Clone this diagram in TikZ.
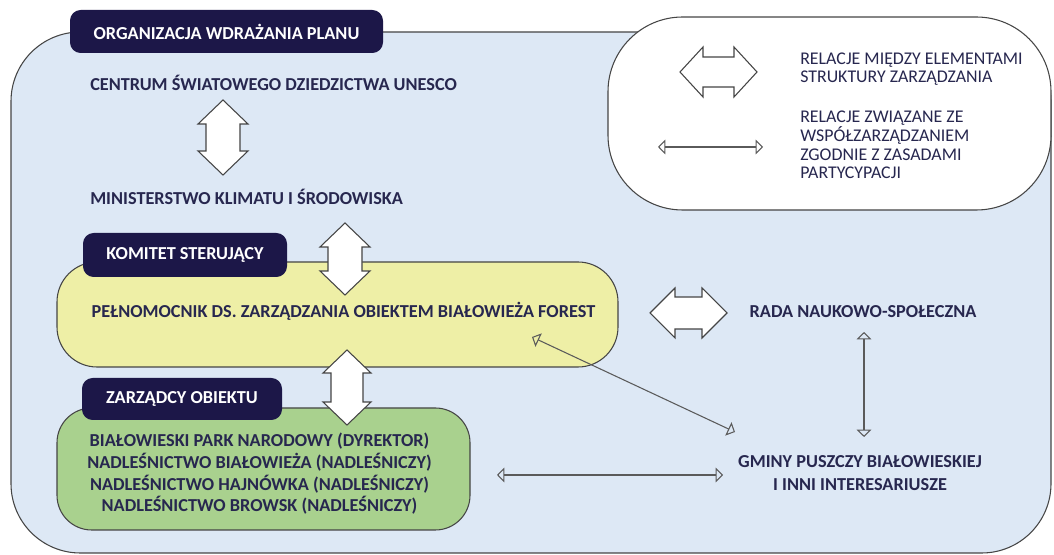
\documentclass[tikz,border=0pt]{standalone}
\usepackage{fontspec}
\setmainfont{Carlito}
\usetikzlibrary{arrows.meta}
\definecolor{bluebg}{HTML}{DDE8F5}
\definecolor{yellowbg}{HTML}{EEEFA6}
\definecolor{greenbg}{HTML}{A9D18E}
\definecolor{navy}{HTML}{1C1748}
\definecolor{txt}{HTML}{27274F}
\definecolor{edgegray}{HTML}{454545}
\definecolor{thingray}{HTML}{5A5A5A}
\tikzset{
  maintext/.style={text=txt, font=\bfseries\fontsize{13.7}{16}\selectfont, inner sep=0pt},
  labelbox/.style={fill=navy, text=white, rounded corners=8pt, inner sep=0pt,
    font=\bfseries\fontsize{13.7}{16}\selectfont},
  panel/.style={draw=edgegray, line width=0.8pt},
  blockarrow/.style={draw=edgegray, fill=white, line width=0.8pt, line join=miter},
  thinarrow/.style={draw=thingray, line width=0.8pt,
    {Triangle[open,length=5.5pt,width=11pt]}-{Triangle[open,length=5.5pt,width=11pt]}},
  legendtext/.style={text=txt, font=\fontsize{13.4}{14}\selectfont, align=left, inner sep=0pt},
}
% vertical block arrow: cx, ytop, ybot, head half width, shaft half width, head length
\newcommand{\vblockarrow}[6]{%
  \draw[blockarrow] (#1,#2) -- ++(#4,#6) -- ++({#5-#4},0) -- ++(0,{#3-#2-2*#6})
    -- ++({#4-#5},0) -- ++(-#4,#6) -- ++(-#4,-#6) -- ++({#4-#5},0)
    -- ++(0,{-(#3-#2-2*#6)}) -- ++({#5-#4},0) -- cycle;}
% horizontal block arrow: cy, xleft, xright, head half height, shaft half height, head length
\newcommand{\hblockarrow}[6]{%
  \draw[blockarrow] (#2,#1) -- ++(#6,-#4) -- ++(0,{#4-#5}) -- ++({#3-#2-2*#6},0)
    -- ++(0,{#5-#4}) -- ++(#6,#4) -- ++(-#6,#4) -- ++(0,{#5-#4})
    -- ++({-(#3-#2-2*#6)},0) -- ++(0,{#4-#5}) -- cycle;}
\begin{document}
\begin{tikzpicture}[x=0.75pt,y=-0.75pt]
\useasboundingbox (0,0) rectangle (1054,555);
% main frame
\draw[panel, fill=bluebg, rounded corners=52pt] (11,32) rectangle (1051,553);
% legend panel
\draw[panel, fill=white, rounded corners=56pt] (608,17) rectangle (1051,210);
% yellow and green panels
\node[panel, fill=yellowbg, rounded corners=30pt, minimum width=420.75pt, minimum height=78.75pt, inner sep=0pt]
  (yellowbox) at (337.5,314.5) {};
\node[panel, fill=greenbg, rounded corners=26pt, minimum width=309.75pt, minimum height=91.5pt, inner sep=0pt]
  (greenbox) at (263.5,469) {};
% header labels
\node[labelbox, minimum width=234.75pt, minimum height=32.25pt] (orglabel) at (226.5,31.5) {ORGANIZACJA WDRAŻANIA PLANU};
\node[labelbox, minimum width=153pt, minimum height=33pt] (komlabel) at (185,255) {KOMITET STERUJĄCY};
\node[labelbox, minimum width=150pt, minimum height=31.5pt] (zarlabel) at (182,399) {ZARZĄDCY OBIEKTU};
% texts
\node[maintext, anchor=west] (unesco) at (90,83) {CENTRUM ŚWIATOWEGO DZIEDZICTWA UNESCO};
\node[maintext, anchor=west] (ministry) at (90,197) {MINISTERSTWO KLIMATU I ŚRODOWISKA};
\node[maintext] (pelnomocnik) at (343.5,311) {PEŁNOMOCNIK DS. ZARZĄDZANIA OBIEKTEM BIAŁOWIEŻA FOREST};
\node[maintext] (rada) at (863,312) {RADA NAUKOWO-SPOŁECZNA};
\node[maintext, align=center, font=\bfseries\fontsize{13.7}{17}\selectfont] (gminy) at (860,473)
  {GMINY PUSZCZY BIAŁOWIESKIEJ\\I INNI INTERESARIUSZE};
\node[maintext, align=center, font=\bfseries\fontsize{13.7}{16.3}\selectfont] (zarzadcy) at (259.5,474)
  {BIAŁOWIESKI PARK NARODOWY (DYREKTOR)\\NADLEŚNICTWO BIAŁOWIEŻA (NADLEŚNICZY)\\NADLEŚNICTWO HAJNÓWKA (NADLEŚNICZY)\\NADLEŚNICTWO BROWSK (NADLEŚNICZY)};
\node[legendtext, anchor=west] (leg1) at (800,69) {RELACJE MIĘDZY ELEMENTAMI\\STRUKTURY ZARZĄDZANIA};
\node[legendtext, anchor=west] (leg2) at (800,145) {RELACJE ZWIĄZANE ZE\\WSPÓŁZARZĄDZANIEM\\ZGODNIE Z ZASADAMI\\PARTYCYPACJI};
% block arrows
\vblockarrow{223}{100}{175}{25}{17}{24}
\vblockarrow{345}{223}{295}{25}{17}{24}
\vblockarrow{347}{350}{425}{24}{16}{23}
\hblockarrow{313}{650}{727}{25}{16}{25}
\hblockarrow{72}{680}{757}{25}{15}{23}
% thin arrows
\coordinate (diagA) at (532,337);
\coordinate (diagB) at (735,432);
\coordinate (horA) at (497,475);
\coordinate (horB) at (723,475);
\coordinate (verA) at (864,332);
\coordinate (verB) at (864,437);
\coordinate (legA) at (658,147);
\coordinate (legB) at (763,147);
\draw[thinarrow] (diagA) -- (diagB);
\draw[thinarrow] (horA) -- (horB);
\draw[thinarrow] (verA) -- (verB);
\draw[thinarrow] (legA) -- (legB);
\end{tikzpicture}
\end{document}
